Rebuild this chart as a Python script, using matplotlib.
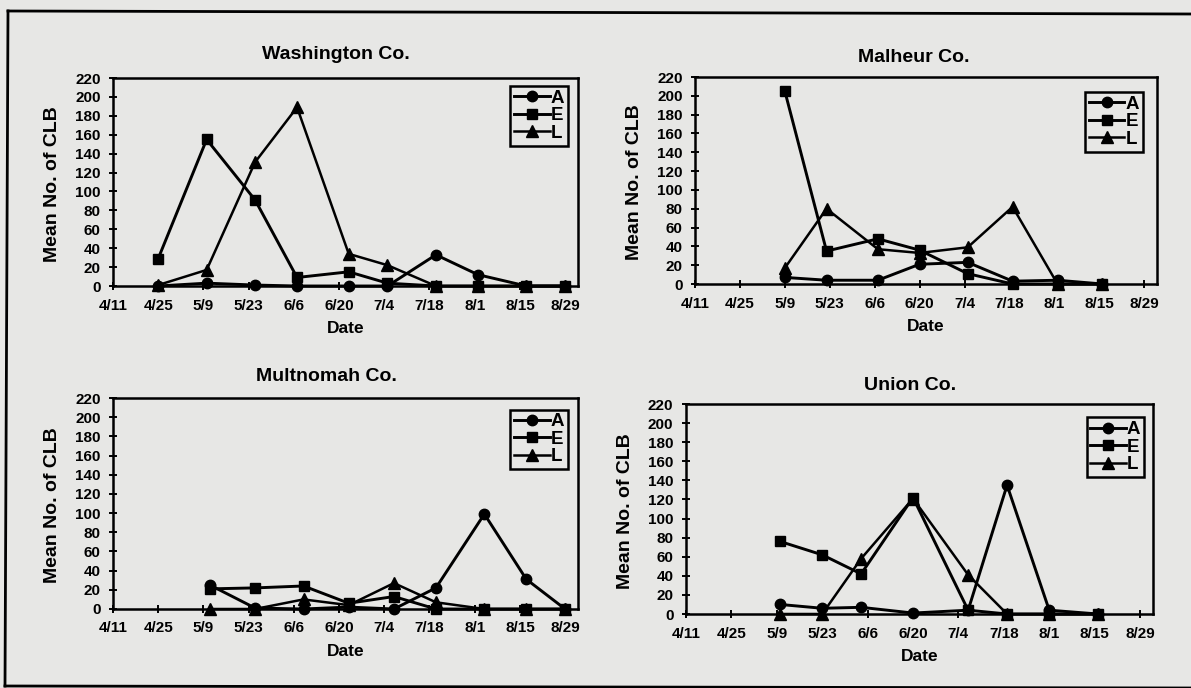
import matplotlib
matplotlib.use('Agg')
import matplotlib.pyplot as plt
from matplotlib.lines import Line2D

plt.rcParams['font.family'] = ['Liberation Sans', 'DejaVu Sans']
plt.rcParams['font.weight'] = 'bold'

# x axis: days after 4/11, ticks every 2 weeks
tick_days = [0, 14, 28, 42, 56, 70, 84, 98, 112, 126, 140]
tick_labels = ['4/11', '4/25', '5/9', '5/23', '6/6', '6/20', '7/4', '7/18', '8/1', '8/15', '8/29']
y_ticks = list(range(0, 221, 20))

# Washington Co.
wash_days = [14, 29, 44, 57, 73, 85, 100, 113, 128, 140]
wash_a = [0, 3, 1, 0, 0, 0, 33, 12, 0, 0]
wash_e = [29, 155, 91, 9, 15, 3, 0, 0, 0, 0]
wash_l = [1, 17, 131, 189, 34, 22, 0, 0, 0, 0]

# Malheur Co.
mal_days = [28, 41, 57, 70, 85, 99, 113, 127]
mal_a = [7, 4, 4, 21, 23, 3, 4, 0]
mal_e = [205, 35, 48, 36, 11, 0, 0, 0]
mal_l = [17, 80, 37, 33, 39, 82, 0, 0]

# Multnomah Co.
mult_days = [30, 44, 59, 73, 87, 100, 115, 128, 140]
mult_a = [25, 1, 0, 2, 0, 22, 99, 31, 0]
mult_e = [21, 22, 24, 6, 13, 0, 0, 0, 0]
mult_l = [0, 0, 10, 4, 27, 7, 0, 0, 0]

# Union Co.
union_days = [29, 42, 54, 70, 87, 99, 112, 127]
union_a = [10, 6, 7, 1, 4, 135, 4, 0]
union_e = [76, 62, 42, 122, 4, 0, 0, 0]
union_l = [0, 0, 58, 121, 41, 0, 0, 0]

bg = '#e7e7e5'
W, H = 1191, 688

fig = plt.figure(figsize=(W / 100, H / 100), dpi=100, facecolor=bg)

# (title, days, A, E, L, axes box in px [left, top, right, bottom], title x, legend anchor, title pad)
panels = [
    ('Washington Co.', wash_days, wash_a, wash_e, wash_l, (113, 78, 578, 286), 0.48, (0.978, 0.962), 14),
    ('Malheur Co.', mal_days, mal_a, mal_e, mal_l, (695, 77, 1157, 284), 0.474, (0.969, 0.928), 11),
    ('Multnomah Co.', mult_days, mult_a, mult_e, mult_l, (113, 398, 578, 609), 0.46, (0.978, 0.945), 12),
    ('Union Co.', union_days, union_a, union_e, union_l, (686, 404, 1153, 614), 0.48, (0.981, 0.936), 10),
]

for title, days, a, e, l, box, tx, leg_xy, tpad in panels:
    x0, y0, x1, y1 = box
    ax = fig.add_axes([x0 / W, 1 - y1 / H, (x1 - x0) / W, (y1 - y0) / H])
    ax.set_facecolor(bg)

    ax.plot(days, a, color='black', lw=2.1, marker='o', ms=7.5, label='A', clip_on=False, zorder=3)
    ax.plot(days, e, color='black', lw=2.1, marker='s', ms=7.5, label='E', clip_on=False, zorder=3)
    ax.plot(days, l, color='black', lw=1.8, marker='^', ms=8.5, label='L', clip_on=False, zorder=3)

    ax.set_xlim(0, 144)
    ax.set_ylim(0, 220)
    ax.set_xticks(tick_days)
    ax.set_xticklabels(tick_labels)
    ax.set_yticks(y_ticks)
    ax.tick_params(direction='inout', length=6, width=1.4, labelsize=11, pad=6,
                   top=False, right=False)
    for s in ax.spines.values():
        s.set_linewidth(1.8)

    ax.set_title(title, fontsize=14, fontweight='bold', x=tx, pad=tpad)
    ax.set_xlabel('Date', fontsize=12.5, fontweight='bold', labelpad=6)
    ax.set_ylabel('Mean No. of CLB', fontsize=14, fontweight='bold')
    ax.yaxis.set_label_coords(-0.112, 0.49)

    leg = ax.legend(loc='upper right', bbox_to_anchor=leg_xy, borderaxespad=0,
                    fontsize=13.5, handlelength=1.9, handletextpad=0.05,
                    labelspacing=0.02, borderpad=0.2, fancybox=False,
                    framealpha=1, facecolor=bg, edgecolor='black')
    leg.get_frame().set_linewidth(1.8)

# frame round the whole page (right side runs off the scan)
def px(xs, ys):
    return [x / W for x in xs], [1 - y / H for y in ys]

for xs, ys in [([8, 1191], [11, 14]), ([8, 5], [11, 686]), ([5, 1191], [686, 688])]:
    fx, fy = px(xs, ys)
    fig.add_artist(Line2D(fx, fy, color='black', lw=2, transform=fig.transFigure))

fig.savefig('out.png', dpi=100, facecolor=bg)
